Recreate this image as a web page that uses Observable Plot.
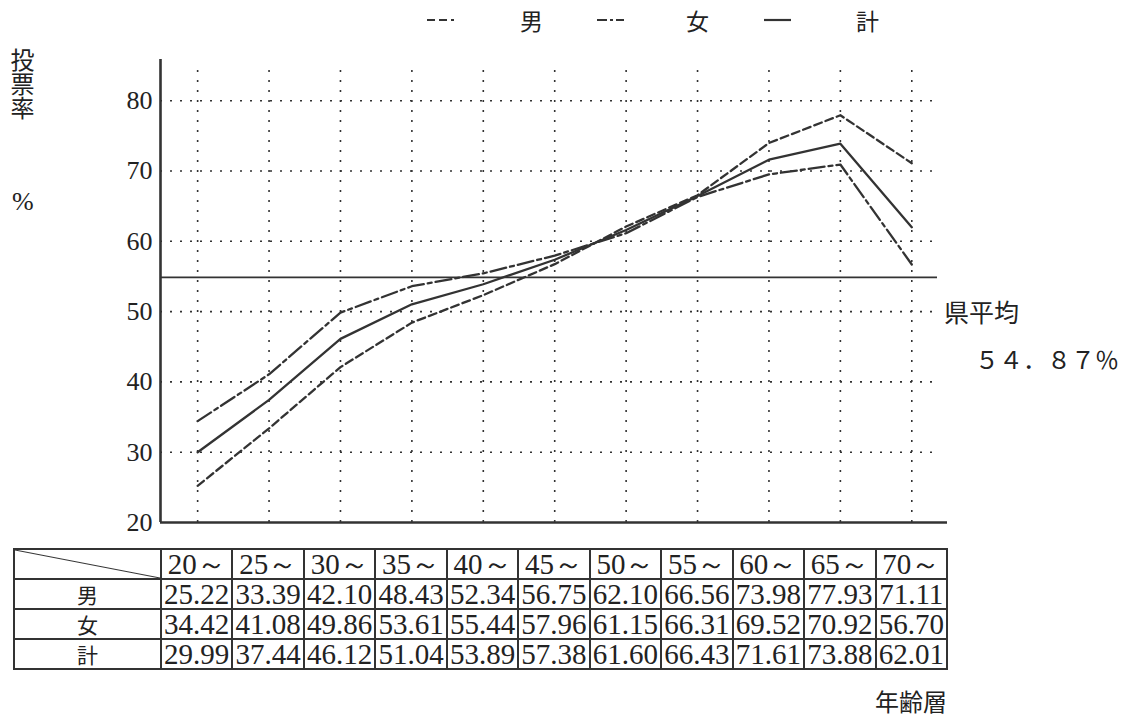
<!DOCTYPE html>
<html><head><meta charset="utf-8">
<script src="https://cdn.jsdelivr.net/npm/d3@7"></script>
<script src="https://cdn.jsdelivr.net/npm/@observablehq/plot@0.6"></script>
<style>
body{margin:0;background:#fff;}
#wrap{position:relative;width:1132px;height:717px;overflow:hidden;background:#fff;}
#chart{position:absolute;left:0;top:0;}
#chart svg text{font-family:"Liberation Serif",serif !important;}
.t{position:absolute;color:#222;font-family:"Noto Sans CJK JP",sans-serif;white-space:nowrap;line-height:1.1;}
.s{font-family:"Liberation Serif",serif !important;}
table{position:absolute;left:13px;top:548px;border-collapse:collapse;table-layout:fixed;width:933px;font-family:"Liberation Serif",serif;color:#222;}
td{border:2px solid #333;padding:0;text-align:center;font-size:29px;line-height:28px;height:28px;overflow:hidden;white-space:nowrap;}
td.lab{font-family:"Noto Sans CJK JP",sans-serif;font-size:21px;line-height:28px;}
td.diag{background:linear-gradient(to top right, transparent calc(50% - 1px), #333 50%, transparent calc(50% + 1px));}
</style></head><body><div id="wrap"><div id="chart"></div></div>
<script>
const ages = ["20～","25～","30～","35～","40～","45～","50～","55～","60～","65～","70～"];
const male   = [25.22,33.39,42.10,48.43,52.34,56.75,62.10,66.56,73.98,77.93,71.11];
const female = [34.42,41.08,49.86,53.61,55.44,57.96,61.15,66.31,69.52,70.92,56.70];
const total  = [29.99,37.44,46.12,51.04,53.89,57.38,61.60,66.43,71.61,73.88,62.01];
const seriesNames = ["男","女","計"];
const prefAvg = 54.87;
const yTicks = [20,30,40,50,60,70,80];

const idx = d3.range(ages.length);
const xMin = -0.52, xMax = 10.5, xGridEnd = 10.36;
const ink = "#333";

const plot = Plot.plot({
  width: 1132, height: 540,
  marginLeft: 160, marginRight: 185, marginTop: 59, marginBottom: 18,
  x: {domain: [xMin, xMax], axis: null},
  y: {domain: [20, 85.86], axis: null},
  style: {fontFamily: "Liberation Serif", color: "#222", background: "transparent"},
  marks: [
    Plot.ruleY(yTicks.filter(d => d > 20), {x1: xMin, x2: xGridEnd, stroke: ink, strokeWidth: 1.6, strokeDasharray: "2,8"}),
    Plot.ruleX(idx, {y1: 20, y2: 84.9, stroke: ink, strokeWidth: 1.6, strokeDasharray: "2,8"}),
    Plot.ruleY([prefAvg], {x1: xMin, x2: xGridEnd, stroke: ink, strokeWidth: 1.6}),
    Plot.lineY(male, {x: (d, i) => i, y: d => d, stroke: ink, strokeWidth: 2.3, strokeDasharray: "8,4"}),
    Plot.lineY(female, {x: (d, i) => i, y: d => d, stroke: ink, strokeWidth: 2.3, strokeDasharray: "16,4,4,4"}),
    Plot.lineY(total, {x: (d, i) => i, y: d => d, stroke: ink, strokeWidth: 2.3}),
    Plot.ruleX([xMin], {y1: 20, y2: 85.86, stroke: ink, strokeWidth: 2.6}),
    Plot.ruleY([20], {x1: xMin, x2: xMax, stroke: ink, strokeWidth: 2.6}),
    Plot.axisY(yTicks, {tickSize: 0, tickPadding: 8, fontSize: 26, fontFamily: "Liberation Serif", label: null, fill: "#222"})
  ]
});
document.getElementById("chart").appendChild(plot);

const wrap = document.getElementById("wrap");
function addText(txt, css, cls) {
  const d = document.createElement("div");
  d.className = "t" + (cls ? " " + cls : "");
  d.textContent = txt;
  Object.assign(d.style, css);
  wrap.appendChild(d);
  return d;
}
// y label
addText("投票率", {left: "10px", top: "48px", fontSize: "24px", writingMode: "vertical-rl", lineHeight: "24px"});
addText("%", {left: "12px", top: "188px", fontSize: "26px"}, "s");

// legend
const legendX = [{sx: 427, tx: 532}, {sx: 597, tx: 698}, {sx: 764, tx: 868}];
const dashes = ["8,4", "10,3,3,3", null];
seriesNames.forEach((name, k) => {
  const s = document.createElementNS("http://www.w3.org/2000/svg", "svg");
  s.setAttribute("width", 30); s.setAttribute("height", 6);
  s.style.position = "absolute"; s.style.left = legendX[k].sx + "px"; s.style.top = "17px";
  const l = document.createElementNS("http://www.w3.org/2000/svg", "line");
  l.setAttribute("x1", 0); l.setAttribute("x2", 27); l.setAttribute("y1", 3); l.setAttribute("y2", 3);
  l.setAttribute("stroke", ink); l.setAttribute("stroke-width", 2.2);
  if (dashes[k]) l.setAttribute("stroke-dasharray", dashes[k]);
  s.appendChild(l); wrap.appendChild(s);
  addText(name, {left: (legendX[k].tx - 12) + "px", top: "8px", fontSize: "23px"});
});

// pref average labels
addText("県平均", {left: "944px", top: "298px", fontSize: "25px"});
const fw = s => s.replace(/[0-9.%]/g, c => String.fromCharCode(c.charCodeAt(0) + 0xFEE0));
addText(fw(prefAvg.toFixed(2) + "%"), {left: "975px", top: "346px", fontSize: "24px"});

// x label
addText("年齢層", {left: "875px", top: "688px", fontSize: "24px"});

// table
const tbl = document.createElement("table");
const cg = document.createElement("colgroup");
const c0 = document.createElement("col"); c0.style.width = "147px"; cg.appendChild(c0);
ages.forEach(() => { const c = document.createElement("col"); c.style.width = (786 / ages.length) + "px"; cg.appendChild(c); });
tbl.appendChild(cg);
function row(label, cells, isHead) {
  const tr = document.createElement("tr");
  const th = document.createElement("td");
  if (isHead) th.className = "diag"; else { th.className = "lab"; th.textContent = label; }
  tr.appendChild(th);
  cells.forEach(v => { const td = document.createElement("td"); td.textContent = v; tr.appendChild(td); });
  tbl.appendChild(tr);
}
row("", ages, true);
row(seriesNames[0], male.map(v => v.toFixed(2)));
row(seriesNames[1], female.map(v => v.toFixed(2)));
row(seriesNames[2], total.map(v => v.toFixed(2)));
wrap.appendChild(tbl);
</script>
</body></html>
